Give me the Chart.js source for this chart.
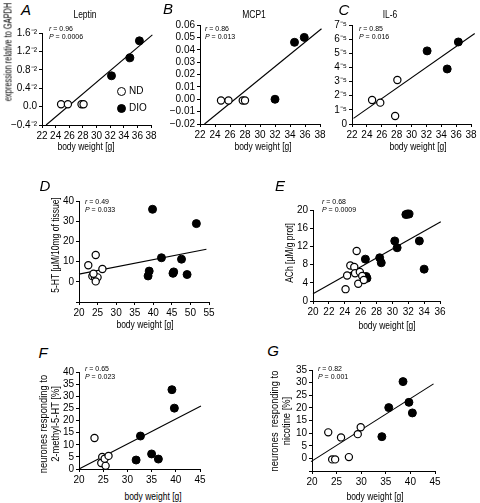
<!DOCTYPE html>
<html>
<head>
<meta charset="utf-8">
<script src="https://cdn.jsdelivr.net/npm/chart.js@4.4.0/dist/chart.umd.min.js"></script>
<style>
  html, body { margin: 0; padding: 0; background: #fff; }
  body { width: 480px; height: 503px; position: relative; overflow: hidden;
         font-family: "Liberation Sans", Arial, sans-serif; color: #000; }
  canvas { position: absolute; }
  .t { position: absolute; white-space: nowrap; transform: translate(-50%, -50%) scaleX(0.85); line-height: 1; font-size: 10px; }
  .rot { transform: translate(-50%, -50%) rotate(-90deg) scaleX(0.85); text-align: center; line-height: 1.1; }
  .let { font-style: italic; font-size: 15px; transform: translate(-50%, -50%); }
  .st { position: absolute; white-space: nowrap; font-size: 7px; line-height: 8px; }
  .st i { font-style: italic; }
  .mk { display: inline-block; width: 7px; height: 7px; border-radius: 50%; border: 1.2px solid #000; vertical-align: middle; margin-right: 3px; }
</style>
</head>
<body>
<canvas id="cA"></canvas>
<canvas id="cB"></canvas>
<canvas id="cC"></canvas>
<canvas id="cD"></canvas>
<canvas id="cE"></canvas>
<canvas id="cF"></canvas>
<canvas id="cG"></canvas>

<!-- panel letters and titles -->
<div class="t let" style="left:26px;top:9px">A</div>
<div class="t let" style="left:168px;top:8px">B</div>
<div class="t let" style="left:344px;top:9px">C</div>
<div class="t let" style="left:45px;top:185px">D</div>
<div class="t let" style="left:280px;top:185px">E</div>
<div class="t let" style="left:43px;top:352px">F</div>
<div class="t let" style="left:273px;top:350px">G</div>

<div class="t" style="left:85px;top:15px">Leptin</div>
<div class="t" style="left:254px;top:15px">MCP1</div>
<div class="t" style="left:390px;top:15px">IL-6</div>

<!-- statistics -->
<div class="st" style="left:49px;top:25px"><i>r</i> = 0.96<br><i>P</i> = 0.0006</div>
<div class="st" style="left:205px;top:25px"><i>r</i> = 0.86<br><i>P</i> = 0.013</div>
<div class="st" style="left:359px;top:25px"><i>r</i> = 0.85<br><i>P</i> = 0.016</div>
<div class="st" style="left:85px;top:198px"><i>r</i> = 0.49<br><i>P</i> = 0.033</div>
<div class="st" style="left:322px;top:198px"><i>r</i> = 0.68<br><i>P</i> = 0.0009</div>
<div class="st" style="left:85px;top:365px"><i>r</i> = 0.65<br><i>P</i> = 0.023</div>
<div class="st" style="left:318px;top:365px"><i>r</i> = 0.82<br><i>P</i> = 0.001</div>

<!-- legend of panel A -->
<div class="st" style="left:117px;top:86px;font-size:10px;line-height:10px"><span class="mk" style="background:#fff"></span>ND</div>
<div class="st" style="left:117px;top:103px;font-size:10px;line-height:10px"><span class="mk" style="background:#000"></span>DIO</div>

<!-- axis titles -->
<div class="t rot" style="left:8px;top:52px;transform:translate(-50%, -50%) rotate(-90deg) scaleX(0.74)">expression relative to GAPDH</div>
<div class="t rot" style="left:55px;top:245px">5-HT [µM/10mg of tissue]</div>
<div class="t rot" style="left:289px;top:253px">ACh [µM/g prot]</div>
<div class="t rot" style="left:49px;top:424px;font-size:11px">neurones responding to<br>2-methyl-5-HT [%]</div>
<div class="t rot" style="left:280px;top:421px;font-size:11px">neurones&nbsp; responding to<br>nicotine [%]</div>

<div class="t" style="left:86px;top:147px">body weight [g]</div>
<div class="t" style="left:263px;top:147px">body weight [g]</div>
<div class="t" style="left:418px;top:147px">body weight [g]</div>
<div class="t" style="left:145px;top:325px">body weight [g]</div>
<div class="t" style="left:387px;top:326px">body weight [g]</div>
<div class="t" style="left:153px;top:497px">body weight [g]</div>
<div class="t" style="left:375px;top:497px">body weight [g]</div>

<script>
// ---- A: Leptin ----
const leptinNdX = [24.8, 25.8, 27.8, 28.1];
const leptinNdY = [0.05, 0.05, 0.05, 0.05];
const leptinDioX = [32.2, 34.9, 36.3];
const leptinDioY = [0.67, 1.06, 1.43];
const leptinFitX = [22.6, 38.2];
const leptinFitY = [-0.4, 1.56];
const leptinYTicks = [-0.4, 0, 0.4, 0.8, 1.2, 1.6];
const leptinYLabels = ['−0.4⁻²', '0.0', '0.4⁻²', '0.8⁻²', '1.2⁻²', '1.6⁻²'];

// ---- B: MCP1 ----
const mcpNdX = [24.8, 25.8, 27.7, 28.0];
const mcpNdY = [-0.001, -0.001, -0.001, -0.001];
const mcpDioX = [32.0, 34.6, 35.9];
const mcpDioY = [0.0, 0.046, 0.050];
const mcpFitX = [22.6, 38.2];
const mcpFitY = [-0.02, 0.057];
const mcpYTicks = [-0.02, -0.01, 0, 0.01, 0.02, 0.03, 0.04, 0.05, 0.06];
const mcpYLabels = ['−0.02', '−0.01', '0.00', '0.01', '0.02', '0.03', '0.04', '0.05', '0.06'];

// ---- C: IL-6 ----
const il6NdX = [24.7, 25.8, 27.8, 28.1];
const il6NdY = [1.70, 1.51, 0.57, 3.11];
const il6DioX = [32.1, 34.8, 36.3];
const il6DioY = [5.17, 3.89, 5.80];
const il6FitX = [22.2, 38.5];
const il6FitY = [0.40, 6.4];
const il6YTicks = [0, 1, 2, 3, 4, 5, 6, 7];
const il6YLabels = ['0', '1⁻⁵', '2⁻⁵', '3⁻⁵', '4⁻⁵', '5⁻⁵', '6⁻⁵', '7⁻⁵'];

const smallXTicks = [22, 24, 26, 28, 30, 32, 34, 36, 38];

// ---- D: 5-HT ----
const htNdX = [22.5, 24.5, 26.3, 23.6, 24.3, 25.0, 24.5, 23.9];
const htNdY = [8.2, 13.3, 6.3, 2.8, 2.2, 2.2, 0.2, 4.0];
const htDioX = [39.8, 51.6, 42.2, 47.6, 38.9, 38.6, 45.5, 45.3, 49.1];
const htDioY = [35.9, 28.8, 11.9, 11.2, 5.3, 2.9, 4.9, 4.2, 3.6];
const htFitX = [20, 54.3];
const htFitY = [3.8, 16.1];
const htXTicks = [20, 25, 30, 35, 40, 45, 50, 55];
const htYTicks = [-10, 0, 10, 20, 30, 40];
const htYLabels = ['', '0', '10', '20', '30', '40'];

// ---- E: ACh ----
const achNdX = [24.1, 24.3, 24.7, 25.2, 25.3, 25.5, 25.7, 25.9, 26.2, 26.4];
const achNdY = [2.6, 5.6, 7.8, 7.5, 6.1, 11.0, 3.8, 6.4, 5.5, 4.6];
const achDioX = [26.6, 26.7, 26.8, 28.4, 28.6, 30.3, 30.6, 31.7, 31.9, 32.1, 33.4, 34.0];
const achDioY = [9.2, 5.4, 5.0, 9.5, 8.4, 13.2, 11.7, 19.0, 19.1, 19.1, 13.2, 7.0];
const achFitX = [20, 36.1];
const achFitY = [1.6, 17.4];
const achXTicks = [20, 22, 24, 26, 28, 30, 32, 34, 36];
const achYTicks = [0, 4, 8, 12, 16, 20];
const achYLabels = ['0', '4', '8', '12', '16', '20'];

// ---- F: 2-methyl-5-HT ----
const mhtNdX = [23.2, 24.8, 24.6, 25.5, 25.3, 26.1];
const mhtNdY = [12.8, 5.0, 2.5, 1.3, 4.2, 5.4];
const mhtDioX = [31.8, 32.7, 35.0, 36.4, 39.2, 39.7];
const mhtDioY = [3.7, 13.6, 6.2, 4.1, 32.7, 25.1];
const mhtFitX = [20, 45.2];
const mhtFitY = [0, 26.0];
const mhtYTicks = [0, 5, 10, 15, 20, 25, 30, 35, 40];
const mhtYLabels = ['0', '5', '10', '15', '20', '25', '30', '35', '40'];

// ---- G: nicotine ----
const nicNdX = [23.3, 24.1, 24.7, 25.9, 27.5, 29.3, 29.9];
const nicNdY = [10.3, -0.4, -0.4, 8.3, 0.5, 9.6, 12.3];
const nicDioX = [34.2, 35.6, 38.5, 39.7, 40.4];
const nicDioY = [8.6, 20.1, 30.4, 22.2, 18.0];
const nicFitX = [19.8, 44.7];
const nicFitY = [-1.3, 29.5];
const nicYTicks = [-5, 0, 5, 10, 15, 20, 25, 30, 35];
const nicYLabels = ['', '0', '5', '10', '15', '20', '25', '30', '35'];

const bigXTicks = [20, 25, 30, 35, 40, 45];

const FONT = '"Liberation Sans", Arial, sans-serif';

function zip(xs, ys) {
    return xs.map((x, i) => ({ x: x, y: ys[i] }));
}

function axis(ticks, labels, fitSize, horizontal) {
    return {
        type: 'linear',
        min: ticks[0],
        max: ticks[ticks.length - 1],
        afterBuildTicks: (s) => { s.ticks = ticks.map(v => ({ value: v })); },
        afterFit: (s) => {
            if (horizontal) s.height = fitSize; else s.width = fitSize;
        },
        grid: {
            display: true,
            drawOnChartArea: false,
            drawTicks: true,
            tickLength: 3,
            color: '#000',
            lineWidth: 1
        },
        border: { display: true, color: '#000', width: 1 },
        ticks: {
            color: '#000',
            font: { family: FONT, size: 10 },
            padding: 2,
            maxRotation: 0,
            autoSkip: false,
            callback: (v, i) => labels[i]
        }
    };
}

function panel(id, box, xTicks, yTicks, yLabels, ndX, ndY, dioX, dioY, fitX, fitY) {
    const el = document.getElementById(id);
    const padT = 8, padR = 10, yW = 40, xH = 22;
    const w = box.r - box.l + yW + padR;
    const h = box.b - box.t + padT + xH;
    el.width = w;
    el.height = h;
    el.style.width = w + 'px';
    el.style.height = h + 'px';
    el.style.left = (box.l - yW) + 'px';
    el.style.top = (box.t - padT) + 'px';

    new Chart(el.getContext('2d'), {
        type: 'scatter',
        data: {
            datasets: [{
                data: zip(ndX, ndY),
                pointRadius: 3.6,
                pointBackgroundColor: '#fff',
                pointBorderColor: '#000',
                pointBorderWidth: 1.2,
                clip: false,
                order: 0
            }, {
                data: zip(dioX, dioY),
                pointRadius: 4,
                pointBackgroundColor: '#000',
                pointBorderColor: '#000',
                pointBorderWidth: 1,
                clip: false,
                order: 0
            }, {
                type: 'line',
                data: zip(fitX, fitY),
                borderColor: '#000',
                borderWidth: 1.1,
                pointRadius: 0,
                fill: false,
                tension: 0,
                clip: false,
                order: 1
            }]
        },
        options: {
            responsive: false,
            devicePixelRatio: 1,
            animation: false,
            layout: { padding: { top: padT, right: padR, left: 0, bottom: 0 } },
            plugins: {
                legend: { display: false },
                tooltip: { enabled: false }
            },
            scales: {
                x: axis(xTicks, xTicks.map(String), xH, true),
                y: axis(yTicks, yLabels, yW, false)
            }
        }
    });
}

panel('cA', { l: 42, t: 33, r: 151, b: 125 }, smallXTicks, leptinYTicks, leptinYLabels,
    leptinNdX, leptinNdY, leptinDioX, leptinDioY, leptinFitX, leptinFitY);
panel('cB', { l: 200, t: 25, r: 320, b: 124 }, smallXTicks, mcpYTicks, mcpYLabels,
    mcpNdX, mcpNdY, mcpDioX, mcpDioY, mcpFitX, mcpFitY);
panel('cC', { l: 352, t: 25, r: 471, b: 124 }, smallXTicks, il6YTicks, il6YLabels,
    il6NdX, il6NdY, il6DioX, il6DioY, il6FitX, il6FitY);
panel('cD', { l: 79, t: 201, r: 209, b: 302 }, htXTicks, htYTicks, htYLabels,
    htNdX, htNdY, htDioX, htDioY, htFitX, htFitY);
panel('cE', { l: 313, t: 210, r: 440, b: 301 }, achXTicks, achYTicks, achYLabels,
    achNdX, achNdY, achDioX, achDioY, achFitX, achFitY);
panel('cF', { l: 79, t: 372, r: 200, b: 469 }, bigXTicks, mhtYTicks, mhtYLabels,
    mhtNdX, mhtNdY, mhtDioX, mhtDioY, mhtFitX, mhtFitY);
panel('cG', { l: 312, t: 370, r: 435, b: 471 }, bigXTicks, nicYTicks, nicYLabels,
    nicNdX, nicNdY, nicDioX, nicDioY, nicFitX, nicFitY);
</script>
</body>
</html>
